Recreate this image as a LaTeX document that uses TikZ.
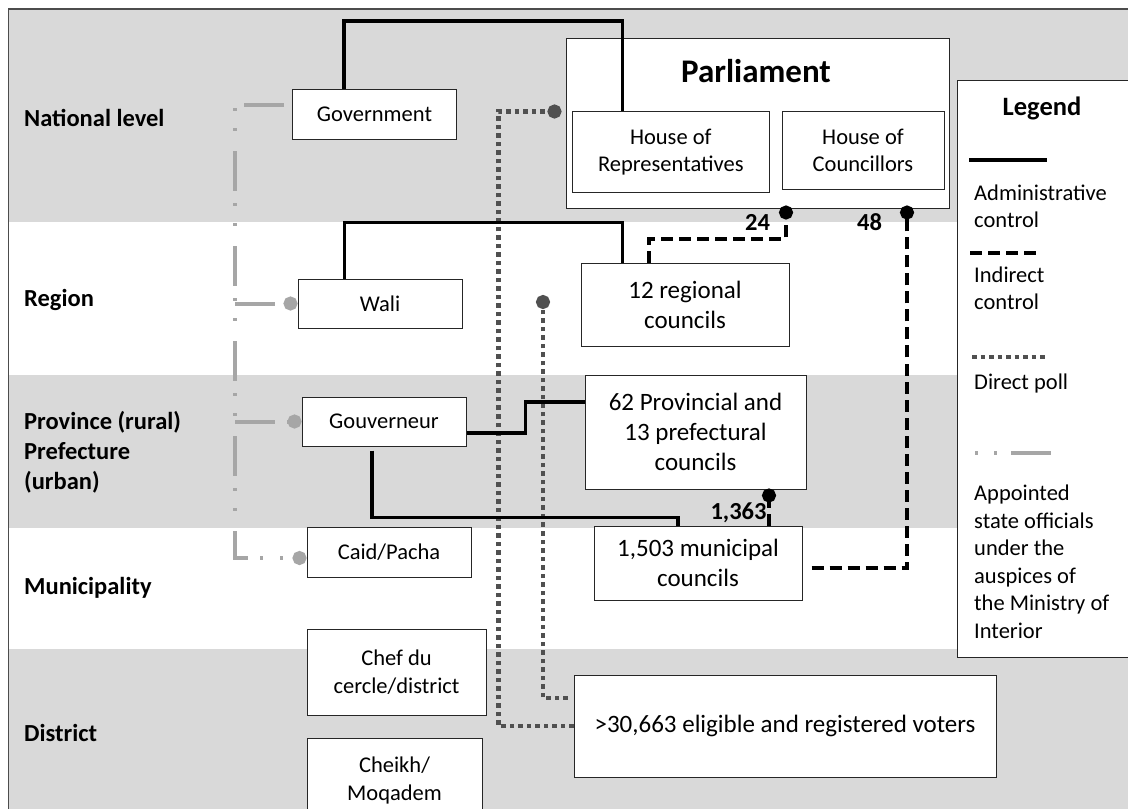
\documentclass[tikz,border=0pt]{standalone}
\usepackage{fontspec}
\setmainfont{Carlito}
\usepackage{xcolor}
\usepackage{tikz}
\usetikzlibrary{arrows.meta,positioning}

\definecolor{bandgray}{HTML}{D9D9D9}
\definecolor{pollgray}{HTML}{505050}
\definecolor{apptgray}{HTML}{A6A6A6}
\newcommand{\foff}{\fontsize{22.5bp}{27.5bp}\selectfont}
\newcommand{\fcoun}{\fontsize{25bp}{30bp}\selectfont}
\newcommand{\flvl}{\fontsize{24.5bp}{30bp}\selectfont\bfseries}
\newcommand{\fparl}{\fontsize{33bp}{40bp}\selectfont\bfseries}
\newcommand{\flegend}{\fontsize{26.5bp}{32bp}\selectfont\bfseries}

\begin{document}
\begin{tikzpicture}[
  x=1bp, y=-1bp,
  box/.style={draw=black!85, fill=white, line width=1bp, align=center, inner sep=0pt, font=\foff},
  cbox/.style={box, font=\fcoun},
  lvl/.style={anchor=west, align=left, inner sep=0pt, font=\flvl},
  num/.style={inner sep=0pt, font=\flvl},
  legtext/.style={anchor=west, align=left, inner sep=0pt, font=\foff},
  dot/.style={-{Circle[length=14bp]}},
  admin/.style={line width=3.5bp},
  indir/.style={line width=4bp, dash pattern=on 12bp off 6bp, dot},
  poll/.style={draw=pollgray, line width=4.5bp, dash pattern=on 4.5bp off 4bp, dot},
  appt/.style={draw=apptgray, line width=4bp, dash pattern=on 40bp off 12bp on 3bp off 17bp on 3bp off 20bp},
]
\useasboundingbox (0,0) rectangle (1128,809);
\clip (0,0) rectangle (1128,809);
\fill[white] (0,0) rectangle (1128,809);
\fill[bandgray] (8.7,9) rectangle (1140,222);
\fill[bandgray] (8.7,375) rectangle (1140,528);
\fill[bandgray] (8.7,649) rectangle (1140,830);
\draw[black!70, line width=1.3bp] (8.7,9) rectangle (1160,830);

\node[lvl] (lvlnat) at (24,118) {National level};
\node[lvl] (lvlreg) at (24,300) {Region};
\node[lvl] (lvlprov) at (24,452) {Province (rural)\\Prefecture\\(urban)};
\node[lvl] (lvlmun) at (24,588) {Municipality};
\node[lvl] (lvldist) at (24,733) {District};

\node[box, minimum width=383bp, minimum height=169bp] (parl) at (757.5,123.5) {};
\node[font=\fparl, inner sep=0pt] (parltitle) at (756,71) {Parliament};
\node[box, minimum width=197.5bp, minimum height=80bp] (rep) at (670.8,152) {House of\\Representatives};
\node[box, minimum width=162bp, minimum height=77bp] (cou) at (863,150.5) {House of\\Councillors};

\node[box, minimum width=164bp, minimum height=50bp] (gov) at (374.5,114.3) {Government};
\node[box, minimum width=164bp, minimum height=49bp] (wali) at (380,303.5) {Wali};
\node[box, minimum width=164bp, minimum height=49bp] (gouv) at (384,421.5) {Gouverneur};
\node[box, minimum width=164bp, minimum height=50bp] (caid) at (389,552) {Caid/Pacha};
\node[box, minimum width=179bp, minimum height=86bp] (chef) at (396.5,672) {Chef du\\cercle/district};
\node[box, minimum width=175bp, minimum height=85bp] (cheikh) at (394.5,780.5) {Cheikh/\\Moqadem};

\node[cbox, minimum width=208bp, minimum height=83bp] (reg) at (685,304.5) {12 regional\\councils};
\node[cbox, minimum width=221bp, minimum height=114bp] (prov) at (695.5,432) {62 Provincial and\\13 prefectural\\councils};
\node[cbox, minimum width=208bp, minimum height=74bp] (mun) at (698,563) {1,503 municipal\\councils};
\node[cbox, minimum width=422bp, minimum height=102bp] (voters) at (785,726) {>30,663 eligible and registered voters};

\node[num] (n24) at (757.5,222) {24};
\node[num] (n48) at (869.5,222) {48};
\node[num] (n1363) at (738.5,513) {1,363};

\node[box, minimum width=200bp, minimum height=576bp] (legend) at (1057,369) {};
\node[font=\flegend, inner sep=0pt] (legtitle) at (1042,108) {Legend};
\node[legtext] (legadmin) at (974,206.5) {Administrative\\control};
\node[legtext] (legindir) at (974,288.5) {Indirect\\control};
\node[legtext] (legpoll) at (974,383) {Direct poll};
\node[legtext] (legappt) at (974,562) {Appointed\\state officials\\under the\\auspices of\\the Ministry of\\Interior};
\draw[admin] (969,160) -- (1047,160);
\draw[line width=4bp, dash pattern=on 12bp off 6bp] (970,253) -- (1042,253);
\draw[draw=pollgray, line width=4.5bp, dash pattern=on 4.5bp off 4bp] (972,357) -- (1048,357);
\draw[draw=apptgray, line width=4bp, dash pattern=on 3bp off 16bp on 3bp off 14bp on 40bp] (975,453) -- (1052,453);

\coordinate (regdot) at (543,295);

\draw[appt, dot, shorten <=8bp] ([yshift=9bp]gov.west) -- ++(-57,0) coordinate (trunk) |- ([yshift=-6bp]caid.west);
\draw[appt, dot] (trunk |- wali.west) -- (wali.west);
\draw[appt, dot] (trunk |- gouv.west) -- (gouv.west);

\draw[poll, shorten >=4bp] (voters.west) -- ++(-75,0) |- (parl.west |- rep.north);
\draw[poll] ([xshift=-6bp, yshift=28bp]voters.west) -| (regdot);

\draw[admin] ([xshift=52bp]gov.north west) -- ++(0,-68) -| ([xshift=51bp]rep.north west);
\draw[admin] ([xshift=47bp]wali.north west) -- ++(0,-56) -| ([xshift=42bp]reg.north west);
\draw[admin] ([yshift=-11.5bp]gouv.east) -- ++(59,0) |- ([yshift=30bp]prov.west);
\draw[admin] ([xshift=-12bp, yshift=-4bp]gouv.south) -- ++(0,67) -| ([xshift=-20bp]mun.north);

\draw[indir, shorten >=-3bp] ([xshift=-36bp]reg.north) -- ++(0,-24) -| ([xshift=28.5bp]parl.south);
\draw[indir, shorten >=-3bp] ([xshift=9bp, yshift=-5bp]mun.east) -| ([xshift=149.5bp]parl.south);
\draw[indir, shorten >=-1bp] ([xshift=71bp]mun.north) -- ([xshift=71bp]mun.north |- prov.south);
\end{tikzpicture}
\end{document}
